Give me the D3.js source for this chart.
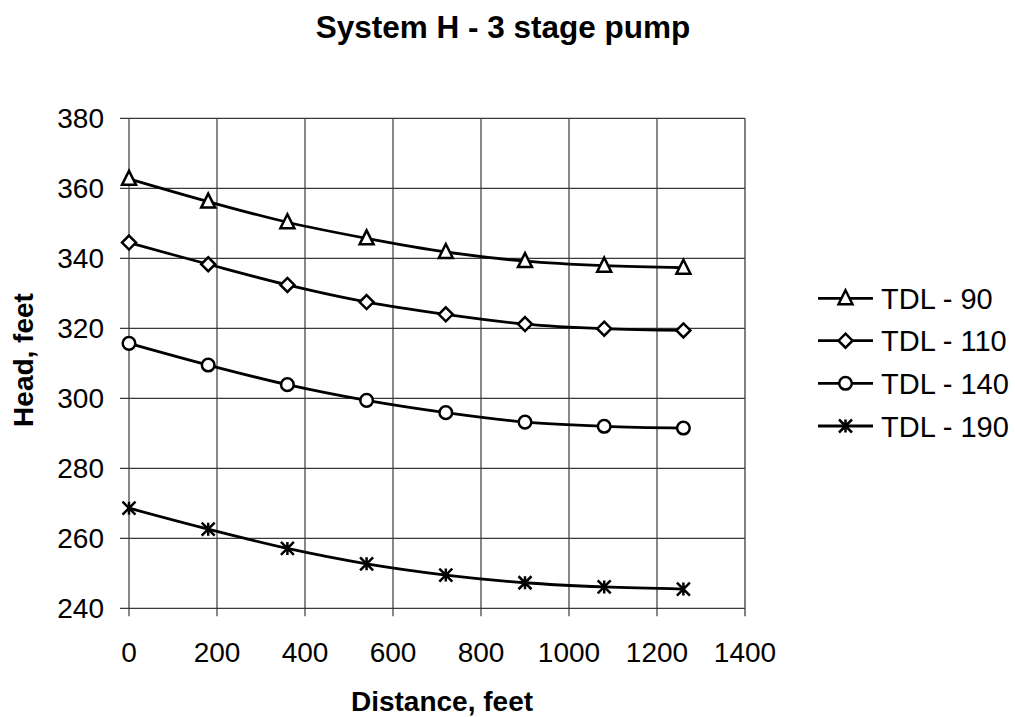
<!DOCTYPE html>
<html><head><meta charset="utf-8">
<script src="https://cdn.jsdelivr.net/npm/d3@7"></script>
<style>body{margin:0;background:#fff}svg{display:block}text{font-family:"Liberation Sans",Arial,sans-serif;fill:#000}</style>
</head><body><svg id="c" width="1015" height="717"></svg>
<script>
const distances = [0, 180, 360, 540, 720, 900, 1080, 1260];
const tdl90  = [362.7, 356.2, 350.3, 345.7, 341.8, 339.2, 337.9, 337.3];
const tdl110 = [344.5, 338.3, 332.4, 327.5, 324.0, 321.2, 319.9, 319.4];
const tdl140 = [315.7, 309.5, 303.9, 299.4, 295.9, 293.2, 292.0, 291.5];
const tdl190 = [268.6, 262.6, 257.1, 252.7, 249.5, 247.3, 246.1, 245.5];
const seriesNames = ["TDL - 90", "TDL - 110", "TDL - 140", "TDL - 190"];
const markerTypes = ["triangle", "diamond", "circle", "star"];
const xTicks = [0, 200, 400, 600, 800, 1000, 1200, 1400];
const yTicks = [240, 260, 280, 300, 320, 340, 360, 380];

const seriesValues = [tdl90, tdl110, tdl140, tdl190];
const svg = d3.select("#c");
const L = 129, R = 745, T = 118.3, B = 608.3;
const x = d3.scaleLinear().domain([0, 1400]).range([L, R]);
const y = d3.scaleLinear().domain([240, 380]).range([B, T]);

// grid
const g = svg.append("g");
g.selectAll(".vg").data(xTicks).join("line")
  .attr("x1", d => x(d)).attr("x2", d => x(d)).attr("y1", T).attr("y2", B + 8)
  .attr("stroke", d => d === 1400 ? "#808080" : "#3a3a3a").attr("stroke-width", d => d === 1400 ? 2 : 1.2);
g.selectAll(".hg").data(yTicks).join("line")
  .attr("x1", L - 9).attr("x2", R).attr("y1", d => y(d)).attr("y2", d => y(d))
  .attr("stroke", "#3a3a3a").attr("stroke-width", 1.2);

// tick labels
svg.append("g").selectAll("text").data(xTicks).join("text")
  .attr("x", d => x(d)).attr("y", 662).attr("text-anchor", "middle")
  .attr("font-size", 28).text(d => d);
svg.append("g").selectAll("text").data(yTicks).join("text")
  .attr("x", 104).attr("y", d => y(d) + 10).attr("text-anchor", "end")
  .attr("font-size", 28).text(d => d);

// titles
svg.append("text").attr("x", 503).attr("y", 38).attr("text-anchor", "middle")
  .attr("font-size", 31.5).attr("font-weight", "bold").text("System H - 3 stage pump");
svg.append("text").attr("x", 442).attr("y", 711).attr("text-anchor", "middle")
  .attr("font-size", 28).attr("font-weight", "bold").text("Distance, feet");
svg.append("text").attr("transform", "translate(33,360) rotate(-90)").attr("text-anchor", "middle")
  .attr("font-size", 28).attr("font-weight", "bold").text("Head, feet");

function drawMarker(sel, type, cx, cy) {
  const s = 7;
  if (type === "triangle") {
    sel.append("path").attr("d", `M${cx},${cy - s - 1}L${cx + s},${cy + s - 1}L${cx - s},${cy + s - 1}Z`)
      .attr("fill", "#fff").attr("stroke", "#000").attr("stroke-width", 2.5).attr("stroke-linejoin", "miter");
  } else if (type === "diamond") {
    sel.append("path").attr("d", `M${cx},${cy - s}L${cx + s},${cy}L${cx},${cy + s}L${cx - s},${cy}Z`)
      .attr("fill", "#fff").attr("stroke", "#000").attr("stroke-width", 2.5);
  } else if (type === "circle") {
    sel.append("circle").attr("cx", cx).attr("cy", cy).attr("r", 6.3)
      .attr("fill", "#fff").attr("stroke", "#000").attr("stroke-width", 2.5);
  } else {
    const a = 6.5;
    sel.append("path").attr("d", `M${cx},${cy - a}L${cx},${cy + a}M${cx - a},${cy - a}L${cx + a},${cy + a}M${cx + a},${cy - a}L${cx - a},${cy + a}`)
      .attr("fill", "none").attr("stroke", "#000").attr("stroke-width", 2.5);
  }
}

const line = d3.line().x(d => x(d[0])).y(d => y(d[1])).curve(d3.curveCatmullRom.alpha(0.5));
seriesValues.forEach((vals, i) => {
  const pts = distances.map((d, j) => [d, vals[j]]);
  svg.append("path").datum(pts).attr("d", line).attr("fill", "none")
    .attr("stroke", "#000").attr("stroke-width", 2.8);
  const mg = svg.append("g");
  pts.forEach(p => drawMarker(mg, markerTypes[i], x(p[0]), y(p[1])));
});

// legend
const legY = [298.3, 340.7, 383.3, 426];
seriesNames.forEach((n, i) => {
  const lg = svg.append("g");
  lg.append("line").attr("x1", 818).attr("x2", 873).attr("y1", legY[i]).attr("y2", legY[i])
    .attr("stroke", "#000").attr("stroke-width", 2.8);
  drawMarker(lg, markerTypes[i], 845.5, legY[i]);
  lg.append("text").attr("x", 881).attr("y", legY[i] + 10.5).attr("font-size", 29).text(n);
});
</script></body></html>
